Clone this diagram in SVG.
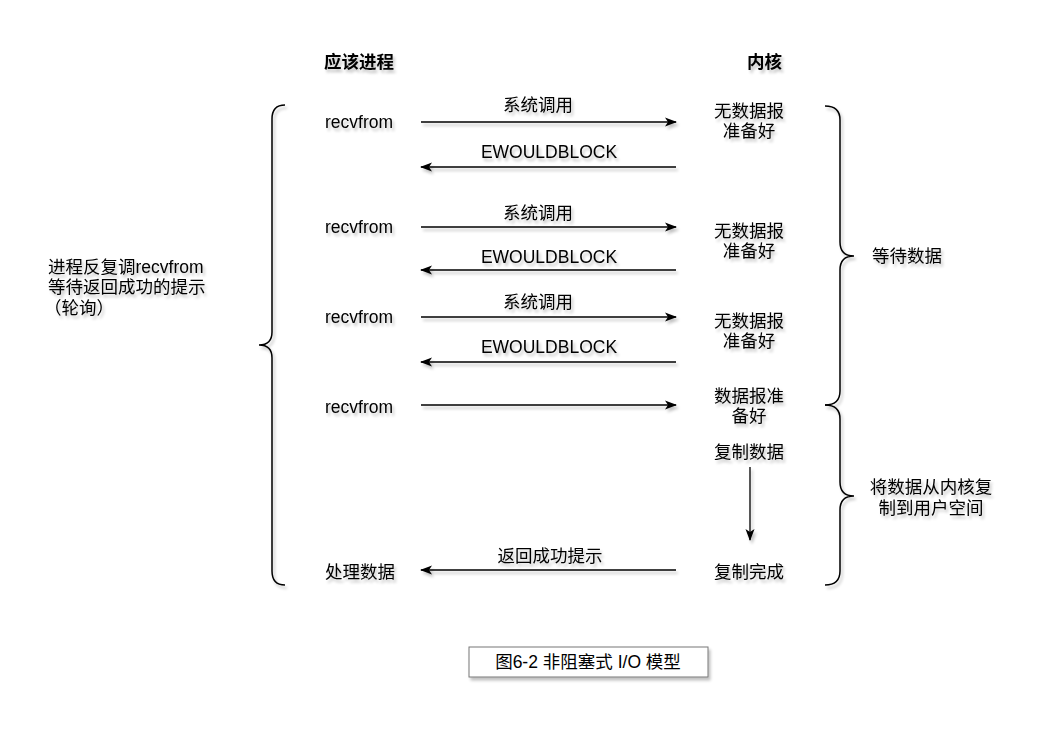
<svg xmlns="http://www.w3.org/2000/svg" width="1061" height="738" viewBox="0 0 1061 738">
<defs>
<filter id="sh" x="-20%" y="-40%" width="140%" height="180%">
<feGaussianBlur in="SourceAlpha" stdDeviation="1.5"/>
<feOffset dx="2" dy="3" result="b"/>
<feComponentTransfer><feFuncA type="linear" slope="0.25"/></feComponentTransfer>
<feMerge><feMergeNode/><feMergeNode in="SourceGraphic"/></feMerge>
</filter>
<marker id="ah" viewBox="0 0 12 10" refX="11" refY="5" markerWidth="12" markerHeight="10" markerUnits="userSpaceOnUse" orient="auto">
<path d="M0,0.5 L12,5 L0,9.5 L3,5 Z" fill="#000"/>
</marker>
</defs>
<style>
text{font-family:"Liberation Sans","Noto Sans CJK SC",sans-serif;font-size:17.5px;fill:#000;dominant-baseline:central}
.b{font-weight:bold}
.m{text-anchor:middle}
.ln{stroke:#000;stroke-width:1.3;fill:none}
.br{stroke:#000;stroke-width:1.5;fill:none}
</style>
<rect width="1061" height="738" fill="#fff"/>
<g filter="url(#sh)">
<g id="hdr-app"><text class="b" x="324" y="62">应该进程</text></g>
<g id="hdr-kernel"><text class="b" x="747" y="62">内核</text></g>

<g id="app1"><text x="325" y="122">recvfrom</text></g>
<g id="app2"><text x="325" y="227">recvfrom</text></g>
<g id="app3"><text x="325" y="317">recvfrom</text></g>
<g id="app4"><text x="325" y="407">recvfrom</text></g>
<g id="app5"><text x="325" y="572">处理数据</text></g>

<g id="k1"><text class="m" x="749" y="111">无数据报</text><text class="m" x="749" y="131">准备好</text></g>
<g id="k2"><text class="m" x="749" y="231">无数据报</text><text class="m" x="749" y="251">准备好</text></g>
<g id="k3"><text class="m" x="749" y="321">无数据报</text><text class="m" x="749" y="341">准备好</text></g>
<g id="k4"><text class="m" x="749" y="396">数据报准</text><text class="m" x="749" y="416">备好</text></g>
<g id="k5"><text class="m" x="749" y="452">复制数据</text></g>
<g id="k6"><text class="m" x="749" y="572">复制完成</text></g>

<g id="note-left"><text x="48" y="267">进程反复调recvfrom</text><text x="48" y="287">等待返回成功的提示</text><text x="44" y="308">（轮询）</text></g>
<g id="note-wait"><text x="872" y="256">等待数据</text></g>
<g id="note-copy"><text class="m" x="931" y="487">将数据从内核复</text><text class="m" x="931" y="508">制到用户空间</text></g>

<g id="braces">
<path class="br" d="M285,105 Q272,105 272,119 L272,332 Q272,345 259,345 Q272,345 272,358 L272,571 Q272,585 285,585"/>
<path class="br" d="M825,106 Q840,106 840,120 L840,242 Q840,256 854,256 Q840,256 840,270 L840,391 Q840,405 825,405"/>
<path class="br" d="M825,405 Q840,405 840,419 L840,482 Q840,496 854,496 Q840,496 840,510 L840,571 Q840,585 825,585"/>
</g>

<g id="connectors">
<line class="ln" x1="421" y1="122" x2="676" y2="122" marker-end="url(#ah)"/>
<line class="ln" x1="676" y1="167" x2="421" y2="167" marker-end="url(#ah)"/>
<line class="ln" x1="421" y1="227" x2="676" y2="227" marker-end="url(#ah)"/>
<line class="ln" x1="676" y1="270" x2="421" y2="270" marker-end="url(#ah)"/>
<line class="ln" x1="421" y1="317" x2="676" y2="317" marker-end="url(#ah)"/>
<line class="ln" x1="676" y1="362" x2="421" y2="362" marker-end="url(#ah)"/>
<line class="ln" x1="421" y1="405" x2="676" y2="405" marker-end="url(#ah)"/>
<line class="ln" x1="750" y1="467" x2="750" y2="540" marker-end="url(#ah)"/>
<line class="ln" x1="676" y1="570" x2="421" y2="570" marker-end="url(#ah)"/>
<text class="m" x="538" y="105">系统调用</text>
<text class="m" x="549" y="152">EWOULDBLOCK</text>
<text class="m" x="538" y="213">系统调用</text>
<text class="m" x="549" y="257">EWOULDBLOCK</text>
<text class="m" x="538" y="302">系统调用</text>
<text class="m" x="549" y="347">EWOULDBLOCK</text>
<text class="m" x="550" y="556">返回成功提示</text>
</g>
</g>

<g id="caption">
<rect x="469" y="647" width="239" height="30" fill="#fff" stroke="#777" stroke-width="1" filter="url(#sh)"/>
<text class="m" x="588" y="662">图6-2 非阻塞式 I/O 模型</text>
</g>
</svg>
